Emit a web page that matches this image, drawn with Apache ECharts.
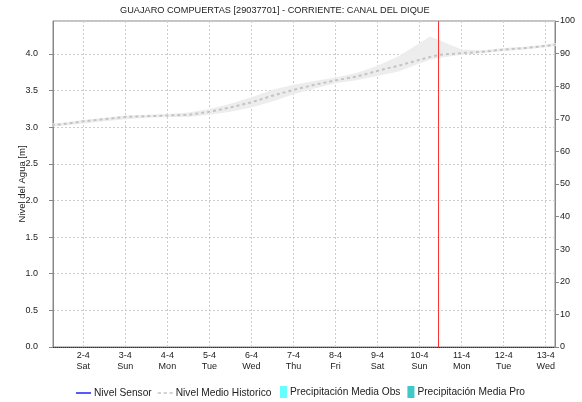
<!DOCTYPE html>
<html>
<head>
<meta charset="utf-8">
<script src="https://cdn.jsdelivr.net/npm/echarts@6/dist/echarts.min.js"></script>
<style>
html, body { margin: 0; padding: 0; background: #fff; }
#main { width: 582px; height: 402px; }
</style>
</head>
<body>
<div id="main"></div>
<script>
// fechas (abril 2022), horas desde 2-4 00:00
var hours = [-18, -12, 0, 12, 24, 36, 48, 60, 72, 84, 96, 108, 120, 132, 144, 156,
    168, 180, 192, 198, 204, 210, 216, 228, 240, 252, 264, 270];
var nivelMedio = [3.03, 3.04, 3.08, 3.11, 3.14, 3.15, 3.16, 3.17, 3.21, 3.27, 3.34, 3.43,
    3.51, 3.58, 3.64, 3.69, 3.77, 3.84, 3.92, 3.96, 3.99, 4.00, 4.01, 4.03, 4.06, 4.08, 4.11, 4.13];
var bandaMin = [3.01, 3.02, 3.05, 3.08, 3.11, 3.13, 3.14, 3.14, 3.17, 3.21, 3.27, 3.35,
    3.45, 3.53, 3.60, 3.64, 3.70, 3.76, 3.87, 3.92, 3.95, 3.97, 3.99, 4.01, 4.04, 4.06, 4.09, 4.11];
var bandaMax = [3.05, 3.06, 3.10, 3.13, 3.16, 3.17, 3.18, 3.20, 3.25, 3.32, 3.41, 3.51,
    3.58, 3.63, 3.68, 3.74, 3.84, 3.97, 4.15, 4.24, 4.18, 4.12, 4.06, 4.05, 4.08, 4.10, 4.13, 4.15];
var nivelSensor = [];
var precipObs = [];
var precipPro = [];
var diasSemana = ['Sun', 'Mon', 'Tue', 'Wed', 'Thu', 'Fri', 'Sat'];
var horaInicio = -17.3;
var horaFin = 269.3;
var horaActual = 202.8;
var nivelMax = 4.45;

var t0 = new Date(2022, 3, 2).getTime();
var H = 3600 * 1000;
function t(h) { return t0 + h * H; }

var medioData = hours.map(function (h, i) { return [t(h), nivelMedio[i]]; });
var minData = hours.map(function (h, i) { return [t(h), bandaMin[i]]; });
var difData = hours.map(function (h, i) { return [t(h), +(bandaMax[i] - bandaMin[i]).toFixed(3)]; });
var ahoraData = [[t(horaActual), 0], [t(horaActual), nivelMax]];

var font = 'Liberation Sans, Arial, sans-serif';
var myChart = echarts.init(document.getElementById('main'));

var legendText = { fontSize: 10.2, color: '#222', fontFamily: font, padding: [0, 0, 0, -2] };

var option = {
    animation: false,
    textStyle: { fontFamily: font },
    title: {
        text: 'GUAJARO COMPUERTAS [29037701] - CORRIENTE: CANAL DEL DIQUE',
        left: 120,
        top: 4,
        padding: 0,
        textStyle: { fontSize: 9.2, fontWeight: 'normal', color: '#222', fontFamily: font, lineHeight: 12 }
    },
    legend: [
        {
            bottom: 4,
            left: 76,
            padding: 0,
            itemGap: 6,
            itemWidth: 15,
            itemHeight: 12,
            textStyle: legendText,
            data: [
                { name: 'Nivel Sensor', icon: 'path://M0,0h16v1.4h-16z' },
                { name: 'Nivel Medio Historico', icon: 'path://M0,0h3v1.6h-3zM5.5,0h3v1.6h-3zM11,0h3v1.6h-3z' }
            ]
        },
        {
            bottom: 4,
            left: 280,
            padding: 0,
            itemGap: 7,
            itemWidth: 7,
            itemHeight: 12,
            textStyle: legendText,
            data: [
                { name: 'Precipitación Media Obs', icon: 'path://M0,0h7v12h-7z' },
                { name: 'Precipitación Media Pro', icon: 'path://M0,0h7v12h-7z' }
            ]
        }
    ],
    grid: {
        left: 53, right: 27, top: 21, bottom: 55,
        containLabel: false,
        outerBoundsMode: 'none',
        show: true, borderColor: '#888', borderWidth: 1
    },
    xAxis: [
        {
            type: 'time',
            min: t(horaInicio),
            max: t(horaFin),
            minInterval: 24 * H,
            maxInterval: 24 * H,
            axisLine: { lineStyle: { color: '#333', type: [1, 1] } },
            axisTick: { show: false },
            axisLabel: {
                fontSize: 9, color: '#222', lineHeight: 11, margin: 3,
                showMinLabel: false, showMaxLabel: false,
                formatter: function (v) {
                    var d = new Date(v);
                    return d.getDate() + '-' + (d.getMonth() + 1) + '\n' + diasSemana[d.getDay()];
                }
            },
            splitLine: { show: true, lineStyle: { color: '#ccc', type: [2, 2] } }
        },
        {
            type: 'category',
            show: false,
            data: []
        }
    ],
    yAxis: [
        {
            type: 'value',
            min: 0,
            max: nivelMax,
            interval: 0.5,
            name: 'Nivel del Agua [m]',
            nameLocation: 'middle',
            nameGap: 26,
            nameMoveOverlap: false,
            nameTextStyle: { fontSize: 9.5, color: '#222', fontFamily: font },
            axisLine: { show: true, lineStyle: { color: '#888' } },
            axisTick: { show: true, length: 4, lineStyle: { color: '#888' } },
            axisLabel: {
                fontSize: 9, color: '#222', margin: 15, showMaxLabel: false,
                formatter: function (v) { return v.toFixed(1); }
            },
            splitLine: { show: true, lineStyle: { color: '#ccc', type: [2, 2] } }
        },
        {
            type: 'value',
            min: 0,
            max: 100,
            interval: 10,
            position: 'right',
            axisLine: { show: true, lineStyle: { color: '#888' } },
            axisTick: { show: true, length: 4, lineStyle: { color: '#888' } },
            axisLabel: { fontSize: 9, color: '#222', margin: 5 },
            splitLine: { show: false }
        }
    ],
    series: [
        {
            name: 'banda_min',
            type: 'line',
            stack: 'banda',
            data: minData,
            symbol: 'none',
            lineStyle: { opacity: 0 },
            silent: true,
            z: 1
        },
        {
            name: 'banda',
            type: 'line',
            stack: 'banda',
            data: difData,
            symbol: 'none',
            lineStyle: { opacity: 0 },
            areaStyle: { color: '#ededed', opacity: 1 },
            silent: true,
            z: 1
        },
        {
            name: 'Nivel Sensor',
            type: 'line',
            data: nivelSensor,
            symbol: 'none',
            itemStyle: { color: '#0000ff' },
            lineStyle: { color: '#0000ff', width: 1.5 }
        },
        {
            name: 'Nivel Medio Historico',
            type: 'line',
            data: medioData,
            symbol: 'none',
            itemStyle: { color: '#c4c4c4' },
            lineStyle: { color: '#c4c4c4', width: 2, type: [3, 3] },
            z: 3
        },
        {
            name: 'ahora',
            type: 'line',
            data: ahoraData,
            symbol: 'none',
            silent: true,
            itemStyle: { color: '#ff3030' },
            lineStyle: { color: '#ff3030', width: 1, type: 'solid' },
            z: 4
        },
        {
            name: 'Precipitación Media Obs',
            type: 'bar',
            xAxisIndex: 1,
            yAxisIndex: 1,
            data: precipObs,
            itemStyle: { color: '#66ffff' }
        },
        {
            name: 'Precipitación Media Pro',
            type: 'bar',
            xAxisIndex: 1,
            yAxisIndex: 1,
            data: precipPro,
            itemStyle: { color: '#40c8c8' }
        }
    ]
};

myChart.setOption(option);
</script>
</body>
</html>
